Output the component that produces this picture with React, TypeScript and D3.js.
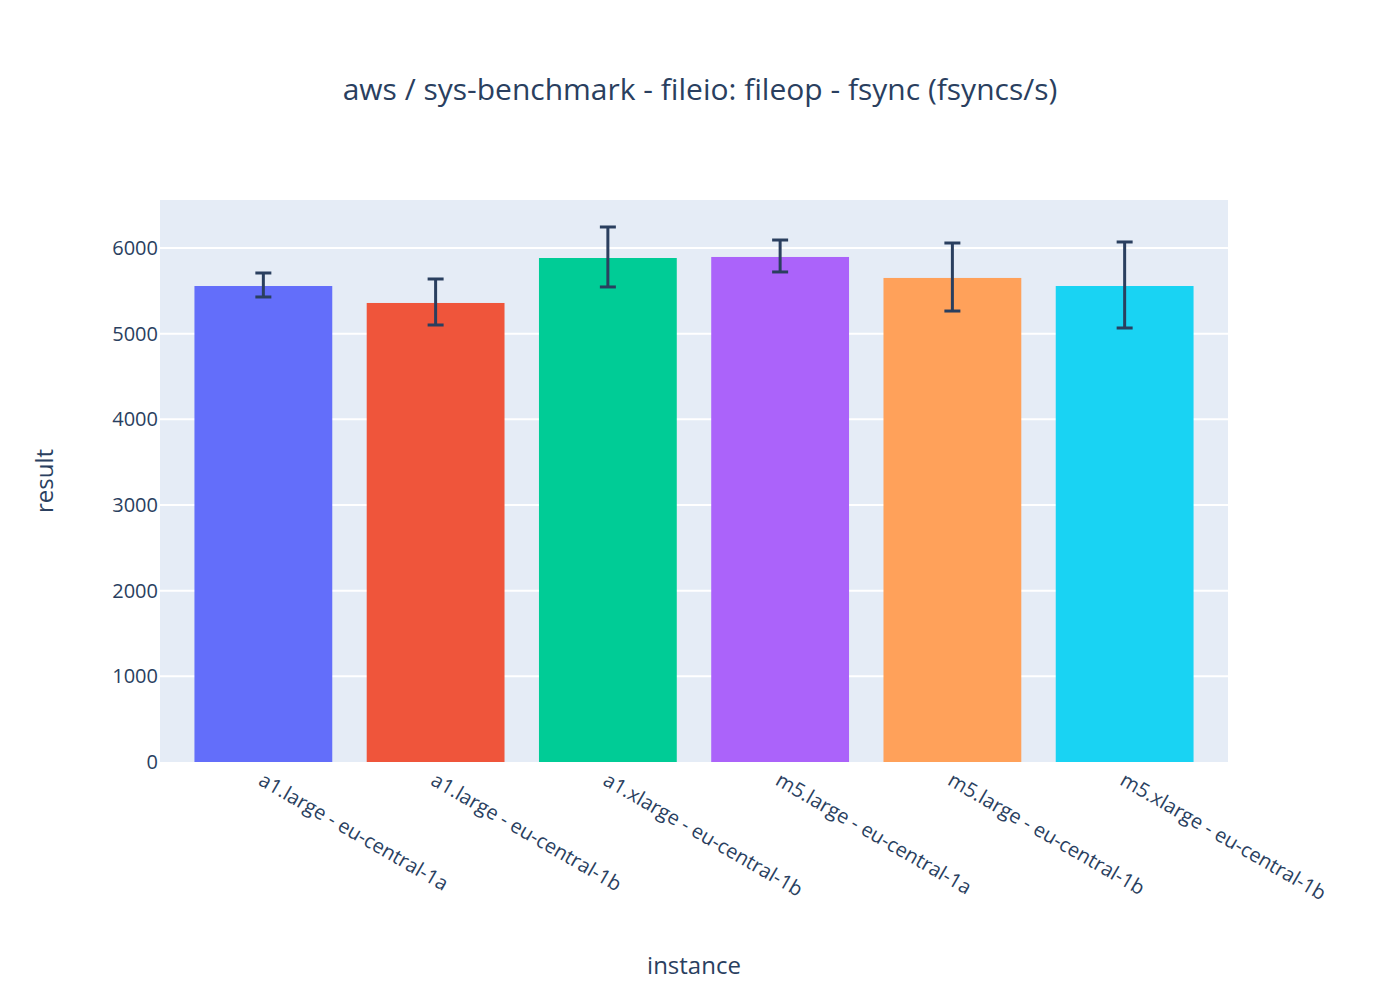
import * as d3 from "d3";

const categories = [
  "a1.large - eu-central-1a",
  "a1.large - eu-central-1b",
  "a1.xlarge - eu-central-1b",
  "m5.large - eu-central-1a",
  "m5.large - eu-central-1b",
  "m5.xlarge - eu-central-1b",
];
const values = [5556, 5358, 5883, 5895, 5650, 5556];
const errPlus = [152, 280, 362, 198, 408, 514];
const errMinus = [128, 257, 338, 175, 386, 490];
const colors = ["#636efa", "#EF553B", "#00cc96", "#ab63fa", "#FFA15A", "#19d3f3"];
const yTicks = [0, 1000, 2000, 3000, 4000, 5000, 6000];

const W = 1400, H = 1000;
const m = { left: 160, right: 172, top: 200, bottom: 238 };
const font = "'Open Sans', 'Liberation Sans', Arial, sans-serif";
const ink = "#2a3f5f";

export default function App() {
  const x = d3.scaleBand().domain(categories).range([m.left, W - m.right]).padding(0.2);
  const y = d3.scaleLinear().domain([0, 6560]).range([H - m.bottom, m.top]);
  return (
    <svg width={W} height={H} style={{ position: "absolute", left: 0, top: 0, fontFamily: font }}>
      <rect width={W} height={H} fill="#fff" />
      <rect x={m.left} y={m.top} width={W - m.left - m.right} height={H - m.top - m.bottom} fill="#e5ecf6" />
      {yTicks.map((t) => (
        <g key={t}>
          {t > 0 && <line x1={m.left} x2={W - m.right} y1={y(t)} y2={y(t)} stroke="#fff" strokeWidth={2} />}
          <text x={m.left - 2} y={y(t)} dy="0.35em" textAnchor="end" fontSize={20} fill={ink}>{t}</text>
        </g>
      ))}
      {categories.map((c, i) => {
        const cx = x(c)! + x.bandwidth() / 2;
        return (
          <g key={c}>
            <rect x={x(c)} y={y(values[i])} width={x.bandwidth()} height={y(0) - y(values[i])} fill={colors[i]} />
            <line x1={cx} x2={cx} y1={y(values[i] + errPlus[i])} y2={y(values[i] - errMinus[i])} stroke={ink} strokeWidth={3} />
            <line x1={cx - 8} x2={cx + 8} y1={y(values[i] + errPlus[i])} y2={y(values[i] + errPlus[i])} stroke={ink} strokeWidth={3} />
            <line x1={cx - 8} x2={cx + 8} y1={y(values[i] - errMinus[i])} y2={y(values[i] - errMinus[i])} stroke={ink} strokeWidth={3} />
            <text transform={`translate(${cx - 6},${y(0) + 22}) rotate(30)`} fontSize={20} fill={ink}>{c}</text>
          </g>
        );
      })}
      <text x={700} y={100} textAnchor="middle" fontSize={30} fill={ink}>aws / sys-benchmark - fileio: fileop - fsync (fsyncs/s)</text>
      <text x={694} y={974} textAnchor="middle" fontSize={24} fill={ink}>instance</text>
      <text transform={`translate(53,481) rotate(-90)`} textAnchor="middle" fontSize={24} fill={ink}>result</text>
    </svg>
  );
}
